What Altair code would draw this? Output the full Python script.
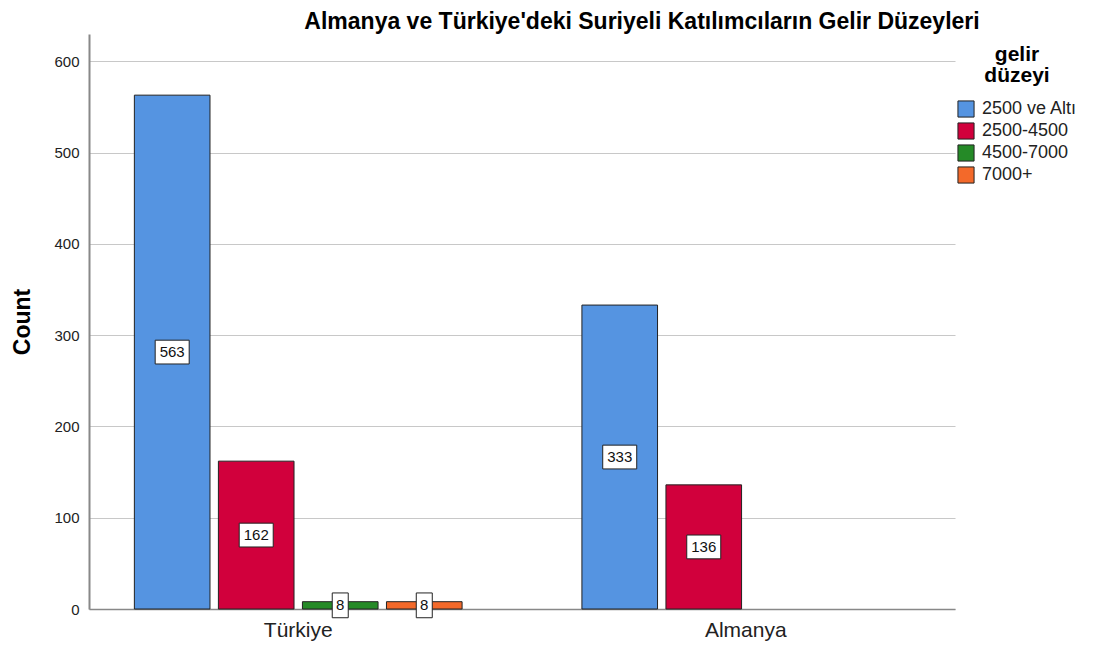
import altair as alt
import pandas as pd

countries = ["Türkiye", "Türkiye", "Türkiye", "Türkiye", "Almanya", "Almanya"]
levels = ["2500 ve Altı", "2500-4500", "4500-7000", "7000+", "2500 ve Altı", "2500-4500"]
counts = [563, 162, 8, 8, 333, 136]

level_order = ["2500 ve Altı", "2500-4500", "4500-7000", "7000+"]
country_order = ["Türkiye", "Almanya"]
colors = ["#5594e1", "#d1003c", "#258a27", "#f3692a"]
y_ticks = [0, 100, 200, 300, 400, 500, 600]

df = pd.DataFrame({"ulke": countries, "gelir": levels, "count": counts})

FONT = "Liberation Sans"

x_enc = alt.X("ulke:N", sort=country_order, title=None,
              scale=alt.Scale(paddingInner=0.065, paddingOuter=0),
              axis=alt.Axis(labelAngle=0, labelFontSize=21, labelColor="#222", labelFont=FONT,
                            ticks=False, domainColor="#888", domainWidth=1.5, labelPadding=10))
xoff = alt.XOffset("gelir:N", sort=level_order,
                   scale=alt.Scale(paddingInner=0.1, paddingOuter=0.54))

base = alt.Chart(df)

bars = base.mark_bar(stroke="#222", strokeWidth=1).encode(
    x=x_enc,
    xOffset=xoff,
    y=alt.Y("count:Q", title="Count",
            scale=alt.Scale(domain=[0, 630], nice=False),
            axis=alt.Axis(values=y_ticks, titleFontSize=23, titleFont=FONT, titleFontWeight="bold",
                          titleColor="#000", labelFontSize=15, labelFont=FONT, labelColor="#222",
                          ticks=False, gridColor="#c8c8c8", gridWidth=1.2, domainColor="#888",
                          domainWidth=2, labelPadding=10, titlePadding=19)),
    color=alt.Color("gelir:N", sort=level_order,
                    scale=alt.Scale(domain=level_order, range=colors),
                    legend=alt.Legend(title=["gelir", "düzeyi"], titleFontSize=21, titleFont=FONT,
                                      titleFontWeight="bold", titleColor="#000", titleAlign="center",
                                      titleAnchor="middle", titleLineHeight=21,
                                      labelFontSize=18, labelFont=FONT,
                                      labelColor="#222", symbolType="square", symbolSize=260,
                                      symbolStrokeColor="#222", symbolStrokeWidth=1,
                                      symbolOpacity=1, rowPadding=0, titlePadding=14,
                                      labelOffset=7, padding=0, orient="none",
                                      legendX=868, legendY=10)),
)

boxes = base.mark_point(filled=True, fill="white", stroke="#222", strokeWidth=1, opacity=1).encode(
    x=alt.X("ulke:N", sort=country_order),
    xOffset=xoff,
    y=alt.Y("mid:Q"),
    shape=alt.condition("datum.count < 10",
                        alt.value("M-1,-1.55H1V1.55H-1Z"),
                        alt.value("M-1,-0.7H1V0.7H-1Z")),
    size=alt.condition("datum.count < 10", alt.value(256), alt.value(1156)),
).transform_calculate(mid="datum.count / 2")

labels = base.mark_text(fontSize=15, font=FONT, color="#111").encode(
    x=alt.X("ulke:N", sort=country_order),
    xOffset=xoff,
    y=alt.Y("mid:Q"),
    text=alt.Text("count:Q"),
).transform_calculate(mid="datum.count / 2")

chart = alt.layer(bars, boxes, labels).properties(
    width=866, height=575,
    padding={"left": 3, "top": 3, "right": 5, "bottom": 5},
    title=alt.TitleParams("Almanya ve Türkiye'deki Suriyeli Katılımcıların Gelir Düzeyleri",
                          fontSize=23, font=FONT, fontWeight="bold", color="#000",
                          anchor="middle", dx=120, offset=0),
).configure_view(stroke=None).configure_axis(grid=True).configure_axisX(grid=False)

chart.save("out.html", embed_options={"renderer": "svg", "actions": False})
